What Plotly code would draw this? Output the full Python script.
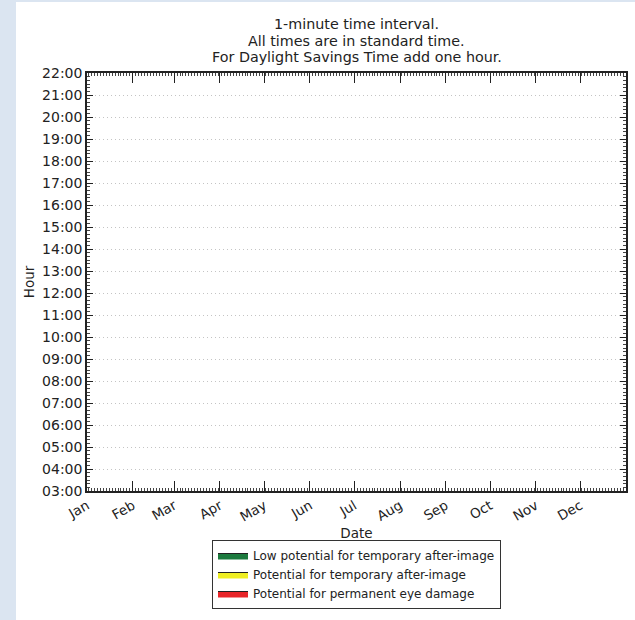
import plotly.graph_objects as go

# ---- data ----
year = 2013
month_starts = [f"{year}-{m:02d}-01" for m in range(1, 13)]
month_labels = ["Jan", "Feb", "Mar", "Apr", "May", "Jun",
                "Jul", "Aug", "Sep", "Oct", "Nov", "Dec"]
hour_range = ["1970-01-01 03:00", "1970-01-01 22:00"]
title_lines = ["1-minute time interval.",
               "All times are in standard time.",
               "For Daylight Savings Time add one hour."]

# glare occurrences (none in this chart)
low_dates, low_times = [], []
temp_dates, temp_times = [], []
perm_dates, perm_times = [], []

series = [
    ("Low potential for temporary after-image", "#1c7a3e", low_dates, low_times),
    ("Potential for temporary after-image", "#eeee22", temp_dates, temp_times),
    ("Potential for permanent eye damage", "#e8262a", perm_dates, perm_times),
]

FONT = "DejaVu Sans"
INK = "#222222"
W, H = 635, 620
L, R, T, B = 87, 9, 73, 129
pw, ph = W - L - R, H - T - B

fig = go.Figure()
for name, color, xs, ys in series:
    fig.add_trace(go.Scatter(
        x=xs if xs else [None], y=ys if ys else [None],
        name=name, mode="lines", fill="toself",
        fillcolor=color, line=dict(color=INK, width=1),
    ))

def px_x(p):
    return (p - L) / pw

def px_y(p):
    return (H - B - p) / ph

# outer white card over light blue page
fig.add_shape(type="rect", xref="paper", yref="paper", layer="below",
              x0=px_x(16), x1=px_x(640), y0=px_y(2), y1=px_y(625),
              fillcolor="white", line=dict(width=0))

# three-line title
for i, line in enumerate(title_lines):
    fig.add_annotation(
        text=line, xref="paper", yref="paper", x=0.5, y=px_y(24 + 16.5 * i),
        xanchor="center", yanchor="middle", showarrow=False,
        font=dict(family=FONT, size=14.3, color=INK),
    )

fig.update_layout(
    width=W, height=H,
    margin=dict(l=L, r=R, t=T, b=B),
    paper_bgcolor="#dbe5f1", plot_bgcolor="white",
    font=dict(family=FONT, size=13, color=INK),
    showlegend=True,
    legend=dict(
        x=px_x(212), xanchor="left", y=px_y(609), yanchor="bottom",
        bgcolor="white", bordercolor="#333333", borderwidth=1,
        font=dict(family=FONT, size=12, color=INK),
        tracegroupgap=0, itemwidth=30,
    ),
)

fig.update_xaxes(
    type="date", automargin=False,
    range=[f"{year}-01-01", f"{year + 1}-01-01"],
    tickvals=month_starts, ticktext=month_labels,
    tickangle=-30, ticks="inside", ticklen=10, tickwidth=1, tickcolor=INK,
    tickfont=dict(family=FONT, size=13.5, color=INK),
    showgrid=False, zeroline=False,
    showline=True, linecolor=INK, linewidth=1.5, mirror="allticks",
    minor=dict(dtick=86400000 * 2, ticks="inside", ticklen=3, tickcolor="#444444", showgrid=False),
    title=dict(text="Date", font=dict(family=FONT, size=13.5, color=INK), standoff=5),
)

fig.update_yaxes(
    type="date", automargin=False,
    range=hour_range,
    dtick=3600000, tickformat="%H:%M",
    ticks="inside", ticklen=6, tickwidth=1, tickcolor=INK,
    tickfont=dict(family=FONT, size=14, color=INK),
    showgrid=True, gridcolor="#c4c4c4", griddash="1px,3px", gridwidth=1,
    zeroline=False,
    showline=True, linecolor=INK, linewidth=1.5, mirror="allticks",
    minor=dict(dtick=600000, ticks="inside", ticklen=3, tickcolor="#444444", showgrid=False),
    title=dict(text="Hour", font=dict(family=FONT, size=13.5, color=INK), standoff=4),
)

fig.write_html(
    "out.html",
    config={"displayModeBar": False},
    post_script="document.body.style.margin='0';document.body.style.background='#dbe5f1';",
)
